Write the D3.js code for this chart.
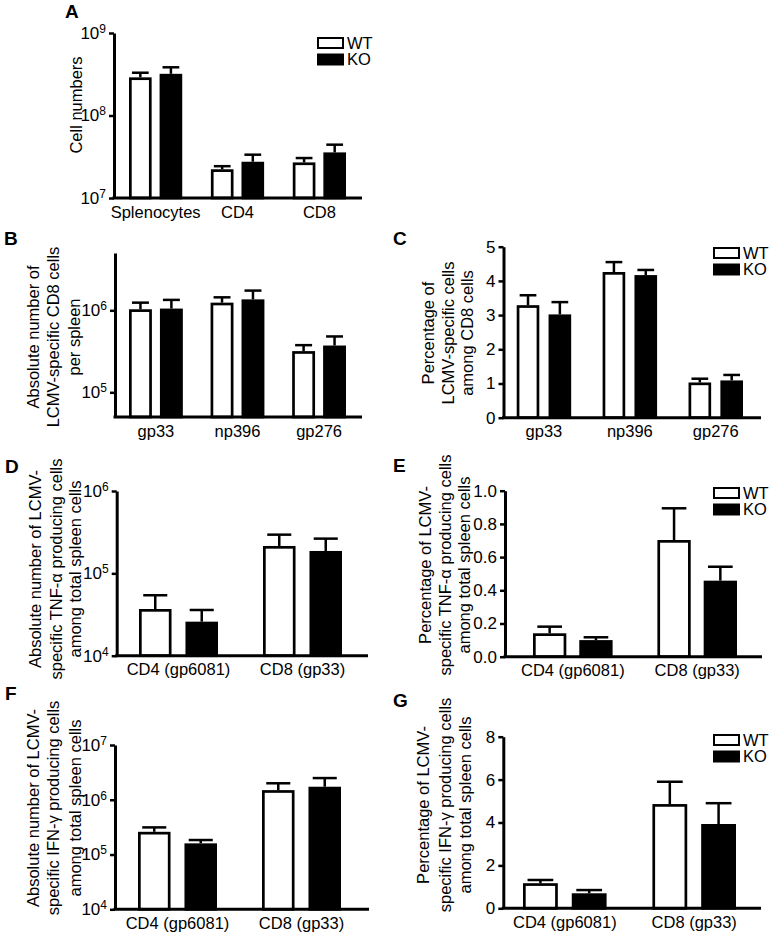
<!DOCTYPE html>
<html><head><meta charset="utf-8">
<script src="https://cdn.jsdelivr.net/npm/d3@7"></script>
<style>
body{margin:0;background:#fff}
text{font-family:"Liberation Sans",Arial,sans-serif;fill:#000}
</style>
</head><body>
<svg id="chart" width="774" height="937"></svg>
<script>
const seriesNames = ["WT", "KO"];

// Panel A
const groupsA = ["Splenocytes", "CD4", "CD8"];
const wtA = [2.9e8, 2.23e7, 2.7e7];
const wtErrA = [0.4e8, 0.2e7, 0.35e7];
const koA = [3.2e8, 2.75e7, 3.57e7];
const koErrA = [0.64e8, 0.6e7, 0.86e7];
const domainA = [1e7, 1e9];
const ticksA = [1e7, 1e8, 1e9];

// Panel B
const groupsB = ["gp33", "np396", "gp276"];
const wtB = [1.03e6, 1.24e6, 3.18e5];
const wtErrB = [0.21e6, 0.2e6, 0.58e5];
const koB = [1.05e6, 1.36e6, 3.72e5];
const koErrB = [0.29e6, 0.38e6, 1.08e5];
const domainB = [5e4, 5e6];
const ticksB = [1e5, 1e6];

// Panel C
const groupsC = ["gp33", "np396", "gp276"];
const wtC = [3.29, 4.26, 1.03];
const wtErrC = [0.29, 0.29, 0.11];
const koC = [3.02, 4.17, 1.09];
const koErrC = [0.36, 0.15, 0.16];
const domainC = [0, 5];
const ticksC = [0, 1, 2, 3, 4, 5];

// Panel D
const groupsD = ["CD4 (gp6081)", "CD8 (gp33)"];
const wtD = [3.69e4, 2.15e5];
const wtErrD = [1.73e4, 0.8e5];
const koD = [2.59e4, 1.87e5];
const koErrD = [1.0e4, 0.77e5];
const domainD = [1e4, 1e6];
const ticksD = [1e4, 1e5, 1e6];

// Panel E
const groupsE = ["CD4 (gp6081)", "CD8 (gp33)"];
const wtE = [0.141, 0.703];
const wtErrE = [0.04, 0.191];
const koE = [0.10, 0.458];
const koErrE = [0.017, 0.084];
const domainE = [0, 1];
const ticksE = [0, 0.2, 0.4, 0.6, 0.8, 1.0];

// Panel F
const groupsF = ["CD4 (gp6081)", "CD8 (gp33)"];
const wtF = [2.6e5, 1.5e6];
const wtErrF = [0.53e5, 0.5e6];
const koF = [1.6e5, 1.73e6];
const koErrF = [0.24e5, 0.76e6];
const domainF = [1e4, 1e7];
const ticksF = [1e4, 1e5, 1e6, 1e7];

// Panel G
const groupsG = ["CD4 (gp6081)", "CD8 (gp33)"];
const wtG = [1.17, 4.86];
const wtErrG = [0.15, 1.04];
const koG = [0.70, 3.93];
const koErrG = [0.15, 0.97];
const domainG = [0, 8];
const ticksG = [0, 2, 4, 6, 8];

const titleA = ["Cell numbers"];
const titleB = ["Absolute number of", "LCMV-specific CD8 cells", "per spleen"];
const titleC = ["Percentage of", "LCMV-specific cells", "among CD8 cells"];
const titleD = ["Absolute number of LCMV-", "specific TNF-\u03b1 producing cells", "among total spleen cells"];
const titleE = ["Percentage of LCMV-", "specific TNF-\u03b1 producing cells", "among total spleen cells"];
const titleF = ["Absolute number of LCMV-", "specific IFN-\u03b3 producing cells", "among total spleen cells"];
const titleG = ["Percentage of LCMV-", "specific IFN-\u03b3 producing cells", "among total spleen cells"];

const panels = [
  {letter:"A", groups:groupsA, wt:wtA, wtErr:wtErrA, ko:koA, koErr:koErrA, log:true, domain:domainA, ticks:ticksA, title:titleA, legend:true,
   L:{axisX:114, xEnd:362, yTop:33, yBot:198, barsL:129, barsR:346, pI:0.35, pI2:0.26, titleXs:[76], titleY:105, lx:65, ly:18, legX:317, legY:37}},
  {letter:"B", groups:groupsB, wt:wtB, wtErr:wtErrB, ko:koB, koErr:koErrB, log:true, domain:domainB, ticks:ticksB, title:titleB, legend:false,
   L:{axisX:115, xEnd:362, yTop:253, yBot:417, barsL:129, barsR:346, pI:0.34, pI2:0.26, titleXs:[33,53,74], titleY:337, lx:4, ly:245}},
  {letter:"C", groups:groupsC, wt:wtC, wtErr:wtErrC, ko:koC, koErr:koErrC, log:false, fmt:"d", domain:domainC, ticks:ticksC, title:titleC, legend:true,
   L:{axisX:503.5, xEnd:761, yTop:246.7, yBot:417.7, barsL:516.7, barsR:743, pI:0.366, pI2:0.29, titleXs:[428,448,467], titleY:333, lx:393, ly:245, legX:713, legY:247}},
  {letter:"D", groups:groupsD, wt:wtD, wtErr:wtErrD, ko:koD, koErr:koErrD, log:true, domain:domainD, ticks:ticksD, title:titleD, legend:false,
   L:{axisX:116.7, xEnd:368, yTop:491, yBot:655.7, barsL:139, barsR:342, pI:0.363, pI2:0.30, titleXs:[35,56,75], titleY:569, lx:5, ly:473}},
  {letter:"E", groups:groupsE, wt:wtE, wtErr:wtErrE, ko:koE, koErr:koErrE, log:false, fmt:".1f", domain:domainE, ticks:ticksE, title:titleE, legend:true,
   L:{axisX:505, xEnd:762, yTop:490.7, yBot:656.7, barsL:533, barsR:737, pI:0.36, pI2:0.28, titleXs:[425,445,464], titleY:565, lx:393, ly:472, legX:713, legY:487}},
  {letter:"F", groups:groupsF, wt:wtF, wtErr:wtErrF, ko:koF, koErr:koErrF, log:true, domain:domainF, ticks:ticksF, title:titleF, legend:false,
   L:{axisX:115, xEnd:369, yTop:745, yBot:909.3, barsL:138, barsR:341, pI:0.363, pI2:0.30, titleXs:[33,53,75], titleY:808, lx:5, ly:700}},
  {letter:"G", groups:groupsG, wt:wtG, wtErr:wtErrG, ko:koG, koErr:koErrG, log:false, fmt:"d", domain:domainG, ticks:ticksG, title:titleG, legend:true,
   L:{axisX:503.3, xEnd:761, yTop:736.7, yBot:908.3, barsL:523, barsR:736, pI:0.354, pI2:0.286, titleXs:[423,445,465], titleY:805, lx:393, ly:707, legX:713, legY:734}}
];

const svg = d3.select("#chart");
const FONT = '"Liberation Sans", Arial, sans-serif';

function drawPanel(p) {
  const L = p.L;
  const g = svg.append("g");
  const y = (p.log ? d3.scaleLog() : d3.scaleLinear()).domain(p.domain).range([L.yBot, L.yTop]);
  const x0 = d3.scaleBand().domain(p.groups).range([L.barsL, L.barsR]).paddingInner(L.pI).paddingOuter(0);
  const x1 = d3.scaleBand().domain(seriesNames).range([0, x0.bandwidth()]).paddingInner(L.pI2).paddingOuter(0);

  const rows = [];
  p.groups.forEach((gn, i) => {
    rows.push({group: gn, s: "WT", v: p.wt[i], e: p.wtErr[i]});
    rows.push({group: gn, s: "KO", v: p.ko[i], e: p.koErr[i]});
  });
  const sw = 2.7;
  const bw = x1.bandwidth();

  // error bars (drawn first so bar outline covers the base)
  const eb = g.append("g").attr("stroke", "#000").attr("stroke-width", 2.5).attr("fill", "none");
  rows.forEach(r => {
    const cx = x0(r.group) + x1(r.s) + bw / 2;
    const yt = y(r.v + r.e);
    eb.append("line").attr("x1", cx).attr("x2", cx).attr("y1", y(r.v)).attr("y2", yt);
    eb.append("line").attr("x1", cx - bw * 0.37).attr("x2", cx + bw * 0.37).attr("y1", yt).attr("y2", yt);
  });

  g.append("g").selectAll("rect").data(rows).join("rect")
    .attr("x", d => x0(d.group) + x1(d.s) + sw / 2)
    .attr("width", bw - sw)
    .attr("y", d => y(d.v) + sw / 2)
    .attr("height", d => L.yBot - y(d.v) - sw / 2)
    .attr("fill", d => d.s === "WT" ? "#fff" : "#000")
    .attr("stroke", "#000").attr("stroke-width", sw);

  // y axis
  const yAxis = d3.axisLeft(y).tickValues(p.ticks).tickSize(5).tickPadding(3).tickSizeOuter(0);
  if (!p.log) yAxis.tickFormat(d3.format(p.fmt));
  const yG = g.append("g").attr("transform", `translate(${L.axisX},0)`).call(yAxis)
    .attr("font-size", 17).attr("font-family", FONT);
  yG.select(".domain").attr("stroke-width", 3);
  yG.selectAll(".tick line").attr("stroke-width", 2.5);
  yG.selectAll(".tick text").attr("fill", "#000");
  if (p.log) {
    yG.selectAll(".tick text").each(function(d) {
      const t = d3.select(this);
      t.text(null);
      t.append("tspan").text("10");
      t.append("tspan").attr("dy", "-0.5em").attr("font-size", 12).text(Math.round(Math.log10(d)));
    });
  }

  // x axis
  const xAxis = d3.axisBottom(x0).tickSize(0).tickPadding(8);
  const xG = g.append("g").attr("transform", `translate(0,${L.yBot})`).call(xAxis)
    .attr("font-size", 16.5).attr("font-family", FONT);
  xG.select(".domain").remove();
  xG.selectAll(".tick text").attr("fill", "#000");
  g.append("line").attr("x1", L.axisX - 1.5).attr("x2", L.xEnd).attr("y1", L.yBot).attr("y2", L.yBot)
    .attr("stroke", "#000").attr("stroke-width", 3);

  // y title
  p.title.forEach((t, i) => {
    g.append("text").attr("transform", `translate(${L.titleXs[i]},${L.titleY}) rotate(-90)`)
      .attr("text-anchor", "middle").attr("dominant-baseline", "central")
      .attr("font-size", 16.5).text(t);
  });

  // panel letter
  g.append("text").attr("x", L.lx).attr("y", L.ly).attr("font-size", 19).attr("font-weight", "bold").text(p.letter);

  // legend
  if (p.legend) {
    seriesNames.forEach((s, i) => {
      const yy = L.legY + i * 16.5;
      g.append("rect").attr("x", L.legX + 1).attr("y", yy + 1).attr("width", 25).attr("height", 10)
        .attr("fill", s === "WT" ? "#fff" : "#000").attr("stroke", "#000").attr("stroke-width", 2);
      g.append("text").attr("x", L.legX + 30).attr("y", yy + 11.5).attr("font-size", 16.5).text(s);
    });
  }
}

panels.forEach(drawPanel);
</script>
</body></html>
